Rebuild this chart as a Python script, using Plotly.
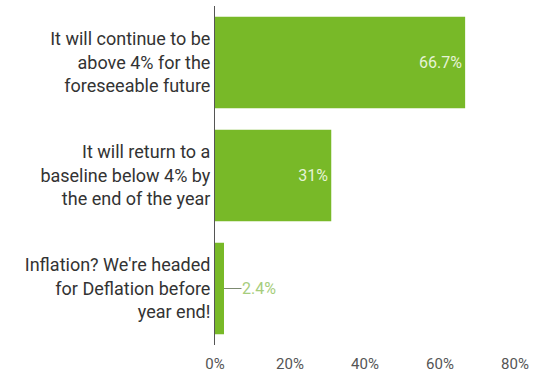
import plotly.graph_objects as go

# Survey answers and the share of respondents choosing each one
answers = [
    "It will continue to be<br>above 4% for the<br>foreseeable future",
    "It will return to a<br>baseline below 4% by<br>the end of the year",
    "Inflation? We're headed<br>for Deflation before<br>year end!",
]
shares = [66.7, 31, 2.4]
share_labels = ["66.7%", "31%", "2.4%"]
x_ticks = [0, 20, 40, 60, 80]
x_tick_labels = ["0%", "20%", "40%", "60%", "80%"]

BAR_GREEN = "#78b928"
INSIDE_MIN = 10  # values below this get an outside label with a leader line

inside_text = [t if v >= INSIDE_MIN else "" for v, t in zip(shares, share_labels)]

fig = go.Figure(
    go.Bar(
        x=shares,
        y=answers,
        orientation="h",
        marker=dict(color=BAR_GREEN, line=dict(width=0)),
        text=inside_text,
        textposition="inside",
        insidetextanchor="end",
        textfont=dict(family="Roboto", size=16, color="#e6f3d6"),
        cliponaxis=False,
    )
)

# Small bars: label placed to the right with a thin leader line
for v, t, a in zip(shares, share_labels, answers):
    if v < INSIDE_MIN:
        fig.add_annotation(
            x=v, y=a, xref="x", yref="y",
            text=t, showarrow=True, arrowhead=0, arrowwidth=1,
            arrowcolor="#7c8a70", ax=35, ay=0, standoff=0,
            font=dict(family="Roboto", size=16, color="#a6cd7c"),
            borderpad=0,
        )

fig.update_layout(
    width=550, height=377,
    margin=dict(l=215, r=35, t=6, b=32),
    paper_bgcolor="white", plot_bgcolor="white",
    bargap=0.19,
    showlegend=False,
    font=dict(family="Roboto", color="#333333"),
)
fig.update_xaxes(
    range=[0, 80], tickvals=x_ticks, ticktext=x_tick_labels,
    showgrid=False, zeroline=False, showline=False,
    tickfont=dict(family="Roboto", size=15, color="#555555"),
    ticks="outside", ticklen=5, tickcolor="rgba(0,0,0,0)",
    automargin=False,
)
fig.update_yaxes(
    categoryorder="array", categoryarray=answers, autorange="reversed",
    showline=True, linecolor="#555555", linewidth=1,
    showgrid=False, ticks="",
    tickfont=dict(family="Roboto", size=18, color="#333333"),
    ticklabelstandoff=0, automargin=False,
)

fig.write_html("out.html")
